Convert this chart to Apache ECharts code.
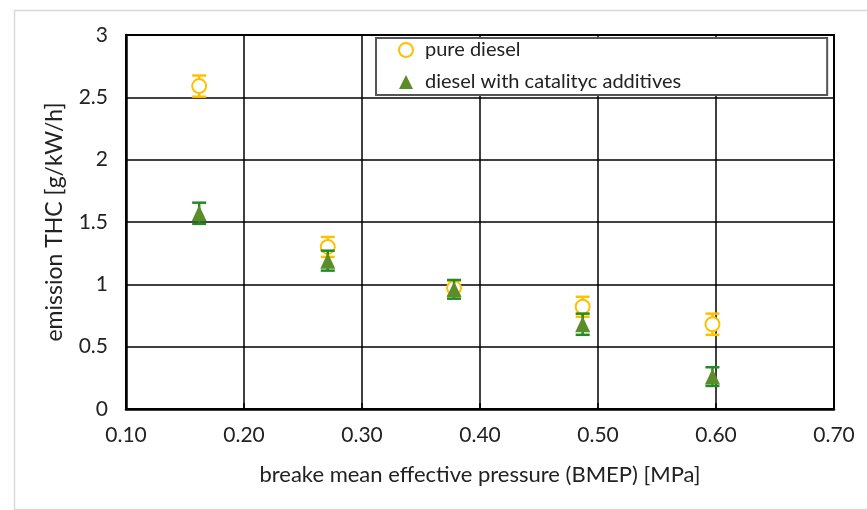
<!DOCTYPE html>
<html>
<head>
<meta charset="utf-8">
<script src="https://cdn.jsdelivr.net/npm/echarts@6/dist/echarts.min.js"></script>
<style>
  html, body { margin: 0; padding: 0; background: #fff; }
  #chart { width: 867px; height: 510px; }
</style>
</head>
<body>
<div id="chart"></div>
<script>
// BMEP [MPa] for each measuring point
const bmep = [0.162, 0.271, 0.378, 0.487, 0.597];

// THC emission [g/kW/h]
const pureDiesel = [2.59, 1.30, 0.97, 0.82, 0.68];
const pureDieselErr = [0.085, 0.08, 0.06, 0.08, 0.085];

const catalyticDiesel = [1.57, 1.19, 0.96, 0.68, 0.26];
const catalyticDieselErr = [0.085, 0.08, 0.075, 0.085, 0.075];

const xTicks = ['0.10', '0.20', '0.30', '0.40', '0.50', '0.60', '0.70'];

const ORANGE = '#ffc000';
const GREEN = '#5b8c2a';
const GREEN_BAR = '#238b23';
const FONT = 'Lato, "Open Sans", sans-serif';

const chart = echarts.init(document.getElementById('chart'));

// x, y, err -> rows for the custom error bar series
const errRows = (ys, errs) => bmep.map((x, i) => [x, ys[i] - errs[i], ys[i] + errs[i]]);

const errorBar = (color) => (params, api) => {
  const lo = api.coord([api.value(0), api.value(1)]);
  const hi = api.coord([api.value(0), api.value(2)]);
  const w = 7;
  const style = { stroke: color, lineWidth: 2.5, fill: null };
  return {
    type: 'group',
    children: [
      { type: 'line', shape: { x1: lo[0], y1: lo[1], x2: hi[0], y2: hi[1] }, style },
      { type: 'line', shape: { x1: lo[0] - w, y1: lo[1], x2: lo[0] + w, y2: lo[1] }, style },
      { type: 'line', shape: { x1: hi[0] - w, y1: hi[1], x2: hi[0] + w, y2: hi[1] }, style }
    ]
  };
};

const option = {
  backgroundColor: '#fff',
  animation: false,
  textStyle: { fontFamily: FONT },
  graphic: [{
    type: 'rect',
    left: 12, top: 8,
    shape: { width: 880, height: 499 },
    style: { fill: 'none', stroke: '#d9d9d9', lineWidth: 1.5 },
    z: -1
  }],
  grid: {
    left: 126, right: 33, top: 35, bottom: 101,
    show: true, borderColor: '#000', borderWidth: 2
  },
  legend: {
    orient: 'vertical',
    left: 376, top: 38,
    padding: [2, 146, 3, 22],
    itemGap: 12,
    itemWidth: 14, itemHeight: 14,
    backgroundColor: '#fff',
    borderColor: '#555',
    borderWidth: 2,
    textStyle: { fontSize: 20, color: '#222', fontFamily: FONT, padding: [0, 0, 0, 7] },
    data: ['pure diesel', 'diesel with catalityc additives']
  },
  xAxis: {
    type: 'value',
    min: 0.1, max: 0.7, interval: 0.1,
    name: 'breake mean effective pressure (BMEP) [MPa]',
    nameLocation: 'middle',
    nameGap: 55,
    nameTextStyle: { fontSize: 22, color: '#222' },
    axisLine: { lineStyle: { color: '#000', width: 2.5 } },
    axisTick: { show: true, inside: true, length: 6, lineStyle: { color: '#000', width: 1.5 } },
    axisLabel: {
      fontSize: 21, color: '#222', margin: 16,
      formatter: (v) => xTicks[Math.round((v - 0.1) * 10)]
    },
    splitLine: { show: true, lineStyle: { color: '#000', width: 1.5 } }
  },
  yAxis: {
    type: 'value',
    min: 0, max: 3, interval: 0.5,
    name: 'emission THC [g/kW/h]',
    nameLocation: 'middle',
    nameRotate: 90,
    nameGap: 60,
    nameMoveOverlap: false,
    nameTextStyle: { fontSize: 23, color: '#222' },
    axisLine: { show: true, lineStyle: { color: '#000', width: 2.5 } },
    axisTick: { show: false },
    axisLabel: { fontSize: 21, color: '#222', margin: 18 },
    splitLine: { show: true, lineStyle: { color: '#000', width: 1.5 } }
  },
  series: [
    {
      type: 'custom',
      renderItem: errorBar(ORANGE),
      data: errRows(pureDiesel, pureDieselErr),
      z: 2
    },
    {
      name: 'pure diesel',
      type: 'scatter',
      symbol: 'emptyCircle',
      symbolSize: 14,
      itemStyle: { color: ORANGE, borderWidth: 2.5, opacity: 1 },
      data: bmep.map((x, i) => [x, pureDiesel[i]]),
      z: 3
    },
    {
      type: 'custom',
      renderItem: errorBar(GREEN_BAR),
      data: errRows(catalyticDiesel, catalyticDieselErr),
      z: 4
    },
    {
      name: 'diesel with catalityc additives',
      type: 'scatter',
      symbol: 'triangle',
      symbolSize: [15, 16],
      itemStyle: { color: GREEN, opacity: 1 },
      data: bmep.map((x, i) => [x, catalyticDiesel[i]]),
      z: 5
    }
  ]
};

chart.setOption(option);
</script>
</body>
</html>
